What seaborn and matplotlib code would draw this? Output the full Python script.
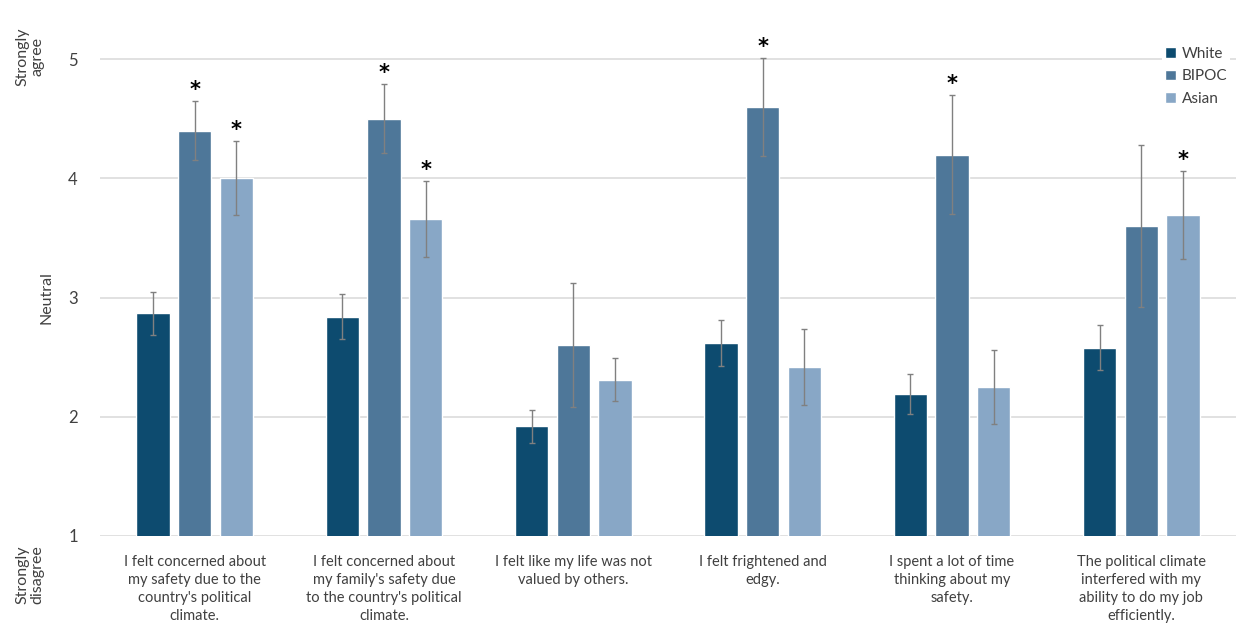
import numpy as np
import pandas as pd
import seaborn as sns
import matplotlib.pyplot as plt

# data
categories = [
    "I felt concerned about\nmy safety due to the\ncountry's political\nclimate.",
    "I felt concerned about\nmy family's safety due\nto the country's political\nclimate.",
    "I felt like my life was not\nvalued by others.",
    "I felt frightened and\nedgy.",
    "I spent a lot of time\nthinking about my\nsafety.",
    "The political climate\ninterfered with my\nability to do my job\nefficiently.",
]
groups = ["White", "BIPOC", "Asian"]

white_mean = [2.87, 2.84, 1.92, 2.62, 2.19, 2.58]
white_err = [0.18, 0.19, 0.14, 0.19, 0.17, 0.19]
bipoc_mean = [4.40, 4.50, 2.60, 4.60, 4.20, 3.60]
bipoc_err = [0.25, 0.29, 0.52, 0.41, 0.50, 0.68]
asian_mean = [4.00, 3.66, 2.31, 2.42, 2.25, 3.69]
asian_err = [0.31, 0.32, 0.18, 0.32, 0.31, 0.37]

white_sig = [False, False, False, False, False, False]
bipoc_sig = [True, True, False, True, True, False]
asian_sig = [True, True, False, False, False, True]

y_ticks = [1, 2, 3, 4, 5]
colors = ["#0d4b6f", "#4e7799", "#88a7c6"]

means = [white_mean, bipoc_mean, asian_mean]
errs = [white_err, bipoc_err, asian_err]
sigs = [white_sig, bipoc_sig, asian_sig]

df = pd.DataFrame({
    "item": np.repeat([categories], 3, axis=0).ravel(),
    "group": np.repeat(groups, len(categories)),
    "score": np.concatenate(means),
})

sns.set_style("white")
plt.rcParams["font.family"] = ["Lato", "DejaVu Sans"]

fig = plt.figure(figsize=(12.36, 6.44), dpi=100)
ax = fig.add_axes([100 / 1236, 108 / 644, 1 - 100 / 1236, 0.796])

sns.barplot(data=df, x="item", y="score", hue="group", order=categories,
            hue_order=groups, palette=colors, width=0.66, gap=0.2,
            errorbar=None, ax=ax, saturation=1)

# error bars and significance markers, placed on the drawn bars
for cont, m, e, s in zip(ax.containers, means, errs, sigs):
    xs = [p.get_x() + p.get_width() / 2 for p in cont.patches]
    ax.errorbar(xs, m, yerr=e, fmt="none", ecolor="#808080",
                elinewidth=1, capsize=2.5, capthick=1, zorder=3)
    for x, v, er, flag in zip(xs, m, e, s):
        if flag:
            ax.text(x, v + er + 0.01, "*", ha="center", va="bottom",
                    fontsize=15, fontweight="bold", color="black",
                    family="DejaVu Sans")

ax.set_ylim(1, 5.3)
ax.set_xlim(-0.5, 5.5)
ax.set_yticks(y_ticks)
ax.set_yticklabels([str(t) for t in y_ticks], fontsize=12, color="#404040")
ax.yaxis.grid(True, color="#dcdcdc", linewidth=1.2)
ax.set_axisbelow(True)
ax.tick_params(axis="y", length=0, pad=16)
ax.tick_params(axis="x", length=0, pad=14, labelsize=10.5, labelcolor="#404040")
for lab in ax.get_xticklabels():
    lab.set_linespacing(1.35)
for sp in ax.spines.values():
    sp.set_visible(False)
ax.set_xlabel("")
ax.set_ylabel("")

# scale anchors on the left
fig.text(30 / 1236, 1 - 57 / 644, "Strongly\nagree", rotation=90, ha="center",
         va="center", fontsize=11.5, color="#404040", linespacing=1.1)
fig.text(47 / 1236, 1 - 298 / 644, "Neutral", rotation=90, ha="center",
         va="center", fontsize=11.5, color="#404040")
fig.text(30 / 1236, 1 - 575 / 644, "Strongly\ndisagree", rotation=90, ha="center",
         va="center", fontsize=11.5, color="#404040", linespacing=1.1)

leg = ax.legend(loc="upper right", bbox_to_anchor=(0.995, 0.96), frameon=True,
                fontsize=11, handlelength=0.7, handleheight=0.7, handletextpad=0.4,
                labelspacing=0.55, borderpad=0.2, borderaxespad=0.0)
leg.get_frame().set_facecolor("white")
leg.get_frame().set_edgecolor("none")
leg.get_frame().set_alpha(1)
for t in leg.get_texts():
    t.set_color("#404040")

fig.savefig("out.png", dpi=100)
